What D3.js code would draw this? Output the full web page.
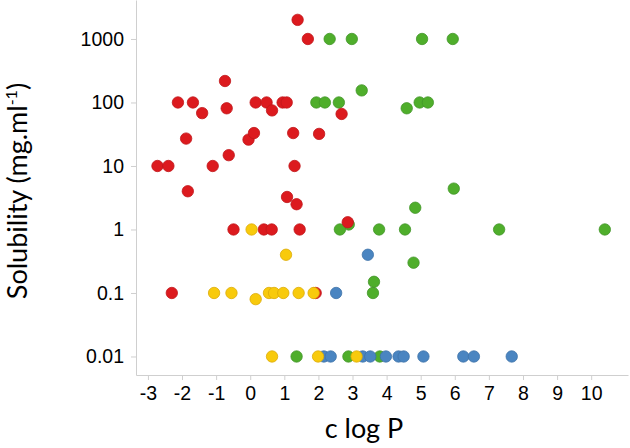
<!DOCTYPE html>
<html>
<head>
<meta charset="utf-8">
<script src="https://cdn.jsdelivr.net/npm/d3@7"></script>
<style>
  body { margin: 0; background: #fff; }
  .tick text { font-family: "Liberation Sans", Arial, sans-serif; font-size: 19.5px; fill: #000; }
  .title { font-family: Lato, "Open Sans", sans-serif; font-size: 27px; fill: #000; }
</style>
</head>
<body>
<svg id="chart" width="630" height="448"></svg>
<script>
// c log P / solubility (mg/ml) pairs, one array per colour group
const redX = [1.39, 1.69, -0.74, -2.12, -1.68, -1.41, -0.69, 0.16, 0.48, 0.64, 0.95, 1.07,
  -1.88, -0.05, 0.11, 1.26, 2.02, -2.72, -2.40, -1.10, -0.63, 1.30, -1.83, 1.08, 1.36,
  2.68, 2.86, -0.49, 0.40, 0.63, 1.45, -2.30, 1.92];
const redY = [2000, 1000, 218, 100, 100, 68, 81, 100, 100, 75, 100, 100,
  27, 26, 33, 33, 32, 10, 10, 10, 14.8, 10, 4.0, 3.25, 2.5,
  66, 1.3, 1, 1, 1, 1, 0.1, 0.1];

const greenX = [1.94, 2.19, 2.60, 2.33, 2.98, 5.04, 5.94, 3.27, 4.59, 4.97, 5.21, 5.97, 4.84,
  2.89, 2.63, 3.78, 4.54, 7.30, 10.40, 4.79, 3.63, 3.60, 1.36, 2.88, 3.80];
const greenY = [100, 100, 100, 1000, 1000, 1000, 1000, 155, 81, 100, 100, 4.4, 2.2,
  1.2, 1, 1, 1, 1, 1, 0.30, 0.15, 0.1, 0.01, 0.01, 0.01];

const yellowX = [0.04, 1.05, -1.06, -0.55, 0.16, 0.55, 0.70, 0.97, 1.42, 1.86, 0.64, 1.99, 3.12];
const yellowY = [1, 0.40, 0.1, 0.1, 0.08, 0.1, 0.1, 0.1, 0.1, 0.1, 0.01, 0.01, 0.01];

const blueX = [3.45, 2.52, 2.16, 2.36, 3.30, 3.52, 3.98, 4.35, 4.50, 5.08, 6.25, 6.56, 7.67];
const blueY = [0.4, 0.1, 0.01, 0.01, 0.01, 0.01, 0.01, 0.01, 0.01, 0.01, 0.01, 0.01, 0.01];

const xTicks = [-3, -2, -1, 0, 1, 2, 3, 4, 5, 6, 7, 8, 9, 10];
const yTicks = [0.01, 0.1, 1, 10, 100, 1000];

// drawing order matters where dots overlap
const groups = [
  { xs: greenX, ys: greenY, fill: '#4fae2b', stroke: '#43962a' },
  { xs: blueX, ys: blueY, fill: '#4a85c1', stroke: '#3d72a8' },
  { xs: redX, ys: redY, fill: '#dc1a1e', stroke: '#c0161a' },
  { xs: yellowX, ys: yellowY, fill: '#f8ca0c', stroke: '#dcab08' }
];

const svg = d3.select('#chart');

const x = d3.scaleLinear().domain([-3.35, 11.08]).range([136, 628]);
const y = d3.scaleLog().domain([0.00511, 4110]).range([375, 0]);

svg.append('g')
  .attr('transform', 'translate(0,375)')
  .call(d3.axisBottom(x).tickValues(xTicks).tickFormat(d => String(d))
    .tickSize(5).tickPadding(6).tickSizeOuter(0))
  .call(g => g.selectAll('path, line').attr('stroke', '#cfcfcf'));

svg.append('g')
  .attr('transform', 'translate(136,0)')
  .call(d3.axisLeft(y).tickValues(yTicks).tickFormat(d => String(d))
    .tickSize(5).tickPadding(7).tickSizeOuter(0))
  .call(g => g.selectAll('path, line').attr('stroke', '#cfcfcf'));

groups.forEach(grp => {
  const pts = grp.xs.map((v, i) => [v, grp.ys[i]]);
  svg.append('g')
    .selectAll('circle')
    .data(pts)
    .join('circle')
    .attr('cx', d => x(d[0]))
    .attr('cy', d => y(d[1]))
    .attr('r', 5.7)
    .attr('fill', grp.fill)
    .attr('stroke', grp.stroke)
    .attr('stroke-width', 0.8);
});

svg.append('text')
  .attr('class', 'title')
  .attr('x', 364)
  .attr('y', 438)
  .attr('text-anchor', 'middle')
  .text('c log P');

const yt = svg.append('text')
  .attr('class', 'title')
  .attr('transform', 'translate(27,191) rotate(-90)')
  .attr('text-anchor', 'middle');
yt.append('tspan').text('Solubility (mg.ml');
yt.append('tspan').attr('font-size', '16px').attr('dy', -10).text('-1');
yt.append('tspan').attr('dy', 10).text(')');
</script>
</body>
</html>
